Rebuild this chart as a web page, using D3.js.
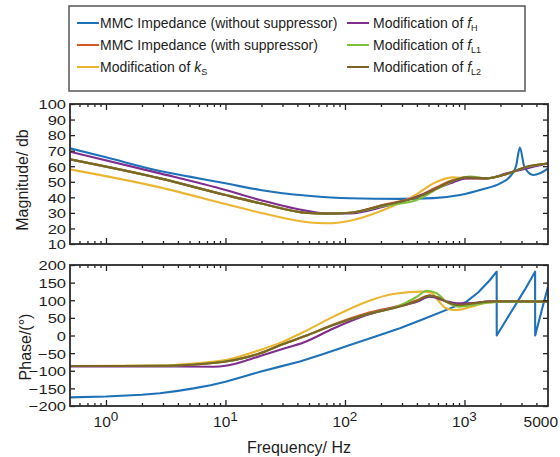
<!DOCTYPE html>
<html><head><meta charset="utf-8">
<script src="https://cdn.jsdelivr.net/npm/d3@7"></script>
<style>
body{margin:0;background:#fff;}
svg text{font-family:"Liberation Sans",Arial,Helvetica,sans-serif;fill:#1e1e1e;}
</style>
</head><body><svg id="c" width="560" height="457"></svg>
<script>
// ---------------- DATA ----------------
const seriesNames = ["MMC Impedance (without suppressor)","MMC Impedance (with suppressor)","Modification of k","Modification of f","Modification of f","Modification of f"];
const seriesSubs  = ["","","S","H","L1","L2"];
const seriesColors = ["#1f72b8","#d4582a","#eab530","#7e2f8e","#7fbf3f","#7a6426"];

// Magnitude (dB)
const magFreqBlue = [0.5,1,2.83,5,10,19.5,30,49,110,288,550,917,1420,1990,2400,2700,2910,3170,3770,4290,5000];
const magBlue     = [71.5,65.7,56.9,53.3,49,44.7,42.6,41,39.4,39,39.5,41.5,45.2,49,53.3,60,72,59.7,54.4,55.5,58.6];
const magFreqOrange = [0.5,2.83,10,19.5,49,70,110,210,400,550,760,1040,1530,2250,3300,5000];
const magOrange     = [64.4,52.2,41.5,36.2,29.9,29.5,30.1,35.2,40.5,45.5,50.5,52.8,52.2,55,59.5,61.8];
const magFreqYellow = [0.5,2.83,10,19.5,49,70,110,210,400,550,800,1040,1530,2250,3300,5000];
const magYellow     = [58,46.4,35.7,30.1,24,23.3,25,31.9,42.1,49,52.8,52.2,52.2,55,59.5,61.8];
const magFreqPurple = [0.5,2.83,10,19.5,49,70,110,210,400,760,1040,1530,2250,3300,5000];
const magPurple     = [69.3,55.4,44.7,38.3,31.2,29.7,29.7,34,40.4,49,52.2,52.2,55.4,58.6,61.8];
const magFreqGreen  = [0.5,2.83,10,19.5,49,70,110,210,400,624,917,1110,1530,2250,3300,5000];
const magGreen      = [64.4,52.2,41.5,36.2,29.9,29.5,30.1,34.5,38.3,46.4,52.2,53.3,52.2,55,59.5,61.8];
const magFreqBrown  = [0.5,2.83,10,19.5,49,70,110,210,400,550,760,1040,1530,2250,3300,5000];
const magBrown      = [64.4,52.2,41.5,36.2,29.9,29.5,30.1,35,40,44.7,50,52.8,52.2,55,59.7,61.8];

// Phase (deg)
const phFreqBlue = [0.5,1,2,2.83,4,5.4,7.5,10,14,19.5,28,42,65,110,180,288,450,760,1040,1300,1600,1860,1862,2500,3200,3900,3905,4500,5000];
const phBlue     = [-175.4,-173,-168,-164,-157,-150,-141,-131,-117,-102.6,-89,-74,-53,-27,-3,20.4,46,77,96,122,154,181,0,71,130,181,0,80,138];
const phFreqOrange = [0.5,3,5,10,19.5,30,49,80,152,288,400,510,600,705,900,1170,1600,2500,5000];
const phOrange     = [-86.5,-86,-83,-74,-50.5,-25,1.4,31,63,85,100,113,108,96,87,91,96,97,96];
const phFreqYellow = [0.5,3,5,10,19.5,30,42,49,80,152,253,452,530,600,680,800,950,1100,1500,2200,5000];
const phYellow     = [-86.5,-85.5,-80,-69.5,-41,-18,5,16,53.4,96,117.7,124.4,121,100,80,72.5,74,80,92,96,96];
const phFreqPurple = [0.5,3,8,10,14,19.5,30,45,80,152,288,400,510,705,900,1170,1600,5000];
const phPurple     = [-88,-88,-88.5,-86,-74,-58,-38,-20,20,58,83.7,96,110,97,91,92,96,96];
const phFreqGreen  = [0.5,3,5,10,19.5,30,49,80,152,288,400,483,585,705,900,1170,1530,2200,5000];
const phGreen      = [-86.5,-86,-83,-74,-50.5,-25,1.4,29.8,60,85,110,127,120,96,82,86,93,96,96];
const phFreqBrown  = [0.5,3,5,10,19.5,30,49,80,152,288,400,510,600,705,900,1170,1600,2500,5000];
const phBrown      = [-86.5,-86,-83,-74,-50.5,-25,1.4,29.8,60,82,98,113,108,96,86.5,91,96,97,96];

const xMajorTicks = [1,10,100,1000,5000];
const xMajorExp   = ["0","1","2","3",null];
const magTicks = [10,20,30,40,50,60,70,80,90,100];
const phTicks  = [-200,-150,-100,-50,0,50,100,150,200];

// ---------------- BUILD ----------------
function pairs(f,v){return f.map((d,i)=>({f:d,v:v[i]}));}
const magSeries = [pairs(magFreqBlue,magBlue),pairs(magFreqOrange,magOrange),pairs(magFreqYellow,magYellow),pairs(magFreqPurple,magPurple),pairs(magFreqGreen,magGreen),pairs(magFreqBrown,magBrown)];
const phSeries  = [pairs(phFreqBlue,phBlue),pairs(phFreqOrange,phOrange),pairs(phFreqYellow,phYellow),pairs(phFreqPurple,phPurple),pairs(phFreqGreen,phGreen),pairs(phFreqBrown,phBrown)];

const svg = d3.select("#c");
const L=70,R=548;
const x = d3.scaleLog().domain([0.5,5000]).range([L,R]);
const minor = x.ticks().filter(t=>![1,10,100,1000].includes(t) && t>0.5 && t<5000);

function panel(top,bot,ydom,yt,series,showX,clipId){
  const y = d3.scaleLinear().domain(ydom).range([bot,top]);
  svg.append("clipPath").attr("id",clipId).append("rect").attr("x",L).attr("y",top).attr("width",R-L).attr("height",bot-top);
  const g = svg.append("g");
  const lg = g.append("g").attr("clip-path",`url(#${clipId})`);
  series.forEach((s,i)=>{
    const line = d3.line().x(d=>x(d.f)).y(d=>y(d.v))
      .curve((i===0 && clipId==="cp") ? d3.curveLinear : d3.curveMonotoneX);
    lg.append("path").attr("d",line(s)).attr("fill","none").attr("stroke",seriesColors[i]).attr("stroke-width",2.1).attr("stroke-linejoin","round");
  });
  const ax = g.append("g").attr("transform",`translate(${L},0)`).call(d3.axisLeft(y).tickValues(yt).tickSize(-5).tickPadding(4));
  ax.selectAll("text").style("font-size","16.5px").attr("dy","0.36em").attr("transform","scale(1,0.82)");
  g.append("g").attr("transform",`translate(${R},0)`).call(d3.axisRight(y).tickValues(yt).tickSize(-5).tickFormat(""));
  g.append("g").attr("transform",`translate(0,${bot})`).call(d3.axisBottom(x).tickValues([1,10,100,1000]).tickSize(-6).tickFormat(""));
  g.append("g").attr("transform",`translate(0,${bot})`).call(d3.axisBottom(x).tickValues(minor).tickSize(-3).tickFormat(""));
  g.append("g").attr("transform",`translate(0,${top})`).call(d3.axisTop(x).tickValues([1,10,100,1000]).tickSize(-6).tickFormat(""));
  g.append("g").attr("transform",`translate(0,${top})`).call(d3.axisTop(x).tickValues(minor).tickSize(-3).tickFormat(""));
  g.selectAll(".domain").remove();
  g.selectAll(".tick line").attr("stroke","#222").attr("stroke-width",1.3);
  g.append("rect").attr("x",L).attr("y",top).attr("width",R-L).attr("height",bot-top).attr("fill","none").attr("stroke","#2a2a2a").attr("stroke-width",1.8);
  if(showX){
    xMajorTicks.forEach((t,i)=>{
      const tx = g.append("text").attr("y",bot+21).style("font-size","15.5px");
      if(xMajorExp[i]===null){
        tx.attr("x",x(t)+10).attr("text-anchor","end").text(String(t));
      } else {
        tx.attr("x",x(t)).attr("text-anchor","middle");
        tx.append("tspan").text("10");
        tx.append("tspan").attr("dy",-6).style("font-size","13.5px").text(xMajorExp[i]);
      }
    });
  }
  return y;
}
panel(104,244,[10,100],magTicks,magSeries,false,"cm");
panel(265,406,[-200,200],phTicks,phSeries,true,"cp");

// axis titles
svg.append("text").attr("transform","translate(28,180) rotate(-90)").attr("text-anchor","middle").style("font-size","16px").text("Magnitude/ db");
svg.append("text").attr("transform","translate(31,347) rotate(-90)").attr("text-anchor","middle").style("font-size","16px").text("Phase/(°)");
svg.append("text").attr("x",299).attr("y",453).attr("text-anchor","middle").style("font-size","16px").text("Frequency/ Hz");

// legend
const leg = svg.append("g");
leg.append("rect").attr("x",69).attr("y",6).attr("width",456).attr("height",85).attr("fill","#fff").attr("stroke","#555").attr("stroke-width",1.5);
const rowY=[23,45,67];
seriesNames.forEach((n,i)=>{
  const col = i<3?0:1, row=i%3;
  const lx = col===0?77:347, tx = col===0?100:373;
  leg.append("line").attr("x1",lx).attr("x2",lx+22).attr("y1",rowY[row]).attr("y2",rowY[row]).attr("stroke",seriesColors[i]).attr("stroke-width",2);
  const t = leg.append("text").attr("x",tx).attr("y",rowY[row]+5).style("font-size","14px");
  if(seriesSubs[i]===""){ t.text(n); }
  else {
    const base = n.slice(0,-1);
    t.append("tspan").text(base);
    t.append("tspan").style("font-style","italic").text(n.slice(-1));
    t.append("tspan").attr("dy",3).style("font-size","9px").text(seriesSubs[i]);
  }
});
</script>
</body></html>
